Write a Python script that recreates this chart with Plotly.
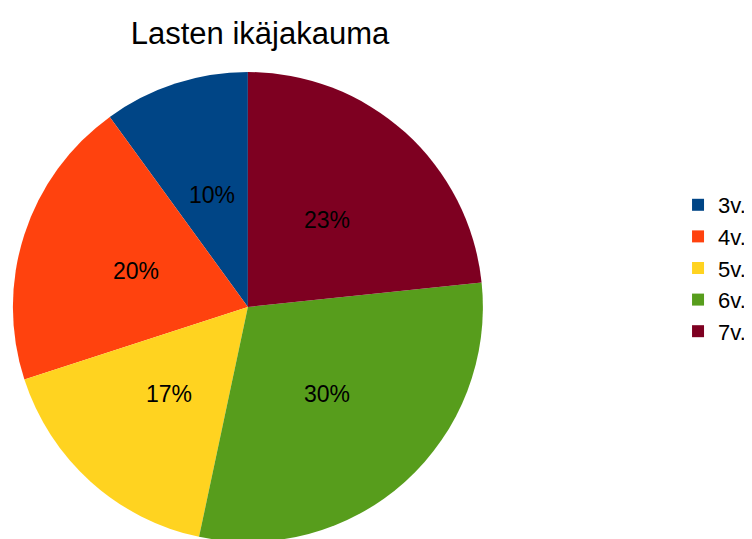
import math
import plotly.graph_objects as go

labels = ["3v.", "4v.", "5v.", "6v.", "7v."]
values = [3, 6, 5, 9, 7]
colors = ["#004586", "#ff420e", "#ffd320", "#579d1c", "#7e0021"]

W, H = 752, 539
M = dict(l=0, r=0, t=64, b=5)
dom_x = [0, 0.638]
dom_y = [0, 1]

fig = go.Figure(go.Pie(
    labels=labels,
    values=values,
    sort=False,
    direction="counterclockwise",
    rotation=-36,
    marker=dict(colors=colors, line=dict(width=0)),
    textinfo="none",
    domain=dict(x=dom_x, y=dom_y),
    hole=0,
))

# percentage labels placed at half the radius along each slice's mid-angle
pw = W - M["l"] - M["r"]
ph = H - M["t"] - M["b"]
r_px = min((dom_x[1] - dom_x[0]) * pw, (dom_y[1] - dom_y[0]) * ph) / 2
cx = (dom_x[0] + dom_x[1]) / 2
cy = (dom_y[0] + dom_y[1]) / 2
total = sum(values)
cum = 0
for v in values:
    a = 2 * math.pi * (cum + v / 2) / total
    cum += v
    fig.add_annotation(
        x=cx - math.sin(a) * 0.5 * r_px / pw,
        y=cy + math.cos(a) * 0.5 * r_px / ph,
        xref="paper", yref="paper",
        xanchor="center", yanchor="middle",
        text=f"{round(100 * v / total)}%",
        showarrow=False,
        font=dict(family="Liberation Sans, Arial, sans-serif", size=23, color="#000000"),
    )

fig.update_layout(
    width=W, height=H,
    margin=dict(**M, autoexpand=False),
    paper_bgcolor="white",
    plot_bgcolor="white",
    title=dict(text="Lasten ikäjakauma", x=252 / 752, xanchor="center", y=1 - 25 / 539, yanchor="middle",
               font=dict(family="Liberation Sans, Arial, sans-serif", size=31, color="#000000")),
    legend=dict(x=0.891, y=0.583, xanchor="left", yanchor="middle",
                font=dict(family="Liberation Sans, Arial, sans-serif", size=22, color="#000000"),
                itemwidth=30),
    showlegend=True,
)

fig.write_html("out.html")
